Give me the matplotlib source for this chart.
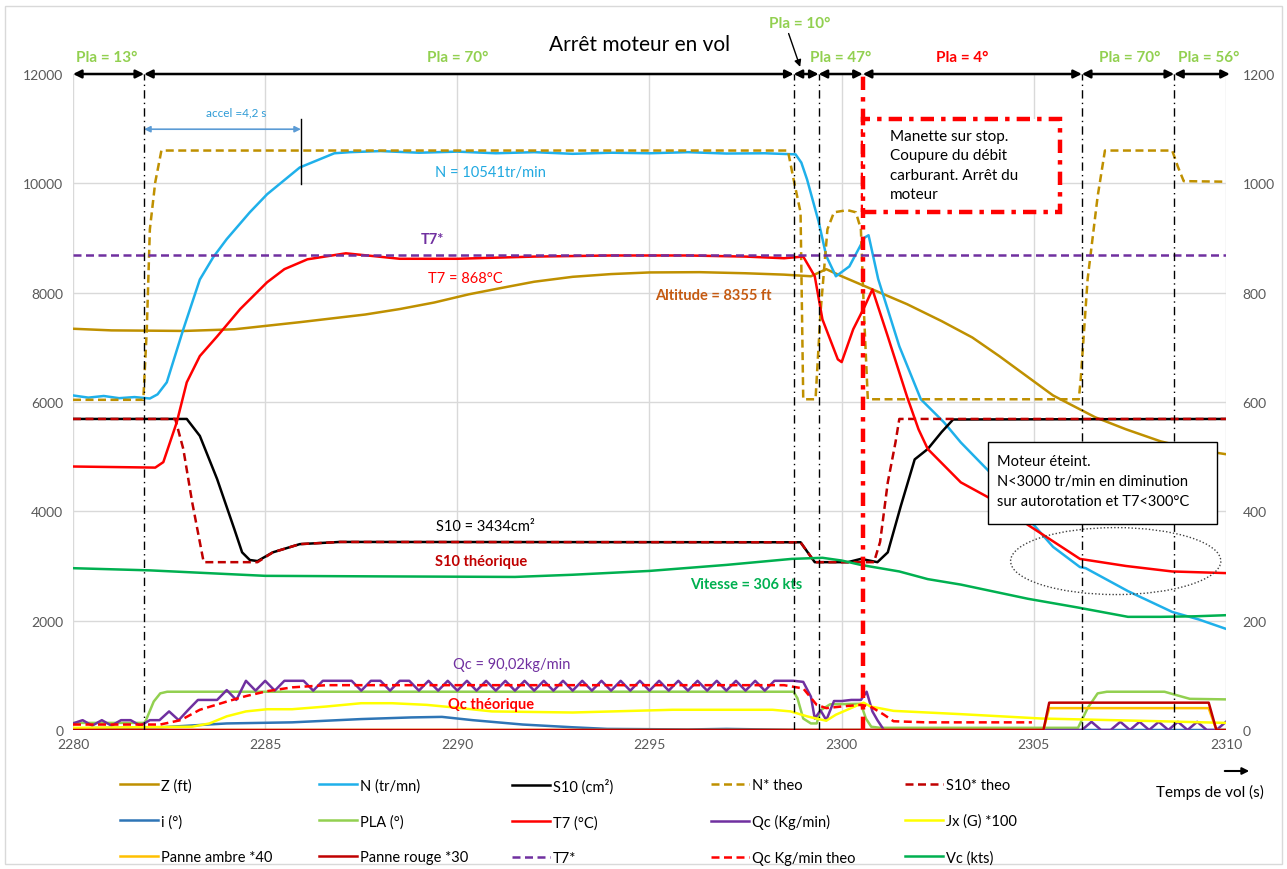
import numpy as np
import matplotlib
matplotlib.use("Agg")
import matplotlib.pyplot as plt
from matplotlib.patches import Rectangle, Ellipse, FancyArrowPatch

plt.rcParams['font.family'] = ['Lato', 'DejaVu Sans']
NARROW = ['Liberation Sans Narrow', 'Lato', 'DejaVu Sans']

# -------------------------------
# data (left axis)
# -------------------------------
z_t = [2280, 2281, 2282.9, 2284.2, 2285.9, 2287.6, 2288.5, 2289.4, 2290.3, 2291.1, 2292, 2293, 2294, 2295,
       2296.3, 2297.5, 2298.5, 2299.2, 2299.6, 2300.0, 2300.8, 2301.7, 2302.6, 2303.4, 2304.1, 2304.8, 2305.5,
       2306.6, 2307.4, 2308.3, 2309.2, 2310]
z_v = [7340, 7310, 7300, 7330, 7460, 7600, 7700, 7820, 7970, 8080, 8200, 8290, 8340, 8370,
       8375, 8355, 8330, 8300, 8430, 8300, 8060, 7790, 7480, 7180, 6840, 6480, 6120,
       5720, 5500, 5280, 5130, 5045]

n_t = [2280, 2280.4, 2280.8, 2281.2, 2281.6, 2282.0, 2282.2, 2282.44, 2282.87, 2283.3, 2283.65, 2284.0, 2284.6,
       2285.05, 2285.9, 2286.8, 2287.2, 2288, 2289, 2290, 2291, 2292, 2293, 2294, 2295, 2296, 2297, 2298,
       2298.8, 2298.95, 2299.1, 2299.4, 2299.6, 2299.85, 2300.2, 2300.6, 2300.7, 2300.95, 2301.5, 2302.06,
       2302.66, 2303.1, 2303.96, 2304.85, 2305.5, 2306.2, 2306.35, 2307.45, 2308.6, 2309.3, 2310]
n_v = [6120, 6080, 6110, 6070, 6090, 6064, 6140, 6360, 7330, 8240, 8650, 8980, 9470,
       9800, 10290, 10550, 10570, 10590, 10560, 10580, 10550, 10570, 10540, 10560, 10550, 10570, 10545, 10550,
       10530, 10380, 10070, 9300, 8670, 8300, 8480, 9010, 9050, 8250, 7020, 6050,
       5630, 5260, 4640, 3870, 3350, 2980, 2960, 2540, 2160, 2020, 1850]

s10_t = [2280, 2282.96, 2283.3, 2283.75, 2284.2, 2284.4, 2284.6, 2284.8, 2285.2, 2285.9, 2286.95, 2298.93,
         2299.3, 2300.16, 2300.5, 2300.93, 2301.2, 2301.54, 2301.9, 2302.24, 2302.6, 2302.9, 2310]
s10_v = [5690, 5690, 5380, 4590, 3670, 3250, 3110, 3090, 3250, 3400, 3440, 3434,
         3070, 3070, 3130, 3070, 3250, 4100, 4950, 5140, 5450, 5680, 5690]

nth_t = [2280, 2281.83, 2281.92, 2282.0, 2282.14, 2282.3, 2298.6, 2298.75, 2298.93, 2299.0, 2299.32, 2299.45,
         2299.63, 2299.8, 2300.15, 2300.37, 2300.5, 2300.58, 2300.68, 2306.17, 2306.22, 2306.4, 2306.66,
         2306.85, 2308.6, 2308.75, 2308.9, 2310]
nth_v = [6040, 6040, 7330, 9160, 10020, 10600, 10600, 10070, 9470, 6050, 6050, 7640,
         9160, 9470, 9510, 9470, 9160, 7640, 6050, 6050, 6420, 8250, 9760,
         10600, 10600, 10300, 10040, 10030]

s10th_t = [2280, 2282.66, 2282.87, 2283.1, 2283.4, 2284.8, 2285.2, 2285.9, 2286.95, 2298.93, 2299.3,
           2300.84, 2301.0, 2301.2, 2301.4, 2301.5, 2310]
s10th_v = [5690, 5690, 5140, 4170, 3070, 3070, 3250, 3400, 3440, 3434, 3070,
           3070, 3440, 4530, 5260, 5690, 5690]

# -------------------------------
# data (right axis)
# -------------------------------
i_t = [2280, 2282.3, 2284, 2285.7, 2287.5, 2288.8, 2289.6, 2290.4, 2291.7, 2293, 2293.9, 2296, 2297, 2298, 2299, 2310]
i_v = [3, 5, 12, 14, 20, 23, 24, 18, 10, 5, 2, 1, 2, 1, 0, 0]

pla_t = [2280, 2281.85, 2281.9, 2282.1, 2282.27, 2282.45, 2298.75, 2298.85, 2299.0, 2299.2, 2299.35, 2299.45,
         2299.7, 2300.5, 2300.63, 2300.77, 2301.0, 2306.15, 2306.4, 2306.66, 2306.9, 2308.4, 2308.75, 2309.06, 2310]
pla_v = [13, 13, 18, 52, 67, 70, 70, 58, 21, 12, 12, 36,
         47, 48, 21, 6, 4, 4, 40, 67, 70, 70, 63, 57, 56]

t7_t = [2280, 2282.14, 2282.35, 2282.7, 2282.96, 2283.3, 2283.75, 2284.35, 2285.05, 2285.5, 2286.1, 2287.1,
        2288.5, 2290, 2292, 2294, 2296, 2297.5, 2298.5, 2299.0, 2299.3, 2299.5, 2299.9, 2300.0, 2300.3, 2300.6,
        2300.8, 2301.2, 2301.7, 2302.0, 2302.24, 2303.1, 2303.96, 2304.85, 2305.7, 2306.2, 2307.4, 2308.6, 2310]
t7_v = [482, 480, 490, 563, 636, 684, 720, 770, 819, 843, 861, 872,
        862, 862, 866, 868, 868, 866, 863, 866, 830, 751, 678, 673, 733, 775,
        806, 720, 610, 550, 514, 453, 420, 375, 336, 313, 300, 290, 287]

# Qc sampled every 0.25 s up to 2299, then irregular points
qc_reg = [12, 18, 8, 18, 8, 18, 18, 8, 18, 18, 34, 18, 37, 55, 55, 55, 73, 55, 90, 72,
          90, 72, 90, 90, 90, 72, 90, 90, 90, 90, 72, 90, 90, 72, 90, 90, 72, 90, 72, 90,
          72, 90, 72, 90, 72, 90, 72, 90, 72, 90, 72, 90, 72, 90, 72, 90, 72, 90, 72, 90,
          72, 90, 72, 90, 72, 90, 72, 90, 72, 90, 72, 90, 72, 90, 90, 90, 88]
qc_tail_t = [2299.2, 2299.3, 2299.45, 2299.6, 2299.8, 2300.0, 2300.25, 2300.5, 2300.65, 2300.8, 2300.93, 2301.1,
             2306.25, 2306.5, 2306.75, 2307.0, 2307.25, 2307.5, 2307.75, 2308.0, 2308.25, 2308.5, 2308.75,
             2309.0, 2309.25, 2309.5, 2309.75, 2310.0]
qc_tail_v = [61, 21, 36, 18, 53, 53, 55, 55, 70, 34, 18, 0,
             0, 15, 0, 0, 15, 0, 15, 0, 15, 0, 15,
             0, 15, 0, 0, 15]
qc_t = list(np.arange(2280, 2299.01, 0.25)) + qc_tail_t
qc_v = qc_reg + qc_tail_v

jx_t = [2280, 2283.1, 2283.55, 2284, 2284.5, 2285.05, 2285.7, 2286.6, 2287.5, 2288.3, 2289.2, 2290.1, 2290.9,
        2293, 2295.6, 2298.2, 2298.67, 2299.1, 2299.4, 2299.6, 2299.85, 2300.57, 2300.75, 2301.35, 2303.1,
        2305.2, 2308.3, 2310]
jx_v = [4, 6, 12, 25, 34, 38, 38, 43, 49, 49, 46, 40, 34,
        32, 37, 37, 34, 25, 20, 17, 28, 50, 43, 35, 29,
        21, 16, 13]

panne_t = [2280, 2305.25, 2305.4, 2309.55, 2309.75, 2310]
ambre_v = [0, 0, 40, 40, 0, 0]
rouge_v = [0, 0, 50, 50, 0, 0]

t7star_t = [2280, 2310]
t7star_v = [868, 868]

qcth_t = [2280, 2282.27, 2282.8, 2283.3, 2284.0, 2284.5, 2285.05, 2285.7, 2286.6, 2298.5, 2299.0, 2299.35,
          2299.6, 2300.0, 2300.5, 2300.75, 2301.1, 2301.35, 2302.2, 2304.95]
qcth_v = [10, 10, 18, 37, 52, 62, 71, 78, 82, 82, 76, 46,
          40, 43, 46, 43, 28, 16, 14, 14]

vc_t = [2280, 2282, 2285, 2288, 2291.5, 2293, 2295, 2297, 2298.7, 2299.5, 2300.0, 2300.5, 2301.5, 2302.24,
        2303.1, 2304.85, 2306.15, 2307.45, 2308.3, 2309.2, 2310]
vc_v = [296, 292, 282, 281, 280, 284, 291, 302, 313, 315, 310, 302, 290, 276,
        266, 240, 224, 207, 207, 208, 210]

# phases (Pla) and event times
phase_edges = [2280, 2281.85, 2298.75, 2299.4, 2300.55, 2306.25, 2308.65, 2310.1]
phase_marks = [2281.85, 2298.75, 2299.4, 2306.25, 2308.65]
t_stop = 2300.55

# -------------------------------
# figure
# -------------------------------
fig = plt.figure(figsize=(12.87, 8.70), dpi=100)
ax = fig.add_axes([73/1287, 1-731/870, 1153/1287, 656/870])
ax2 = ax.twinx()
L = ax.transData

ax.set_xlim(2280, 2310)
ax.set_ylim(0, 12000)
ax2.set_ylim(0, 1200)
ax.set_xticks(range(2280, 2311, 5))
ax.set_yticks(range(0, 12001, 2000))
ax2.set_yticks(range(0, 1201, 200))
ax.set_axisbelow(True)
ax.grid(color='#d9d9d9', lw=1)
for a in (ax, ax2):
    for s in a.spines.values():
        s.set_visible(False)
ax.tick_params(axis='both', length=0, labelsize=10, colors='#595959')
ax.tick_params(axis='y', pad=7)
ax.tick_params(axis='x', pad=6)
ax2.tick_params(axis='y', length=0, labelsize=10, colors='#595959', pad=12)
for lbl in ax.get_xticklabels() + ax.get_yticklabels() + ax2.get_yticklabels():
    lbl.set_fontfamily(NARROW)

lw = 1.8
dash = (0, (3.2, 1.8))
h = {}
h['z'], = ax.plot(z_t, z_v, color='#BF9000', lw=lw, label='Z (ft)')
h['n'], = ax.plot(n_t, n_v, color='#1FB0EA', lw=lw, label='N (tr/mn)')
h['s10'], = ax.plot(s10_t, s10_v, color='black', lw=lw, label='S10 (cm²)')
h['nth'], = ax.plot(nth_t, nth_v, color='#BF9000', lw=lw, ls=dash, label='N* theo')
h['s10th'], = ax.plot(s10th_t, s10th_v, color='#C00000', lw=lw, ls=dash, label='S10* theo')

h['i'], = ax2.plot(i_t, i_v, color='#2E75B6', lw=lw, label='i (°)')
h['pla'], = ax2.plot(pla_t, pla_v, color='#92D050', lw=lw, label='PLA (°)')
h['t7'], = ax2.plot(t7_t, t7_v, color='#FF0000', lw=lw, label='T7 (°C)')
h['qc'], = ax2.plot(qc_t, qc_v, color='#7030A0', lw=lw, label='Qc (Kg/min)')
h['jx'], = ax2.plot(jx_t, jx_v, color='#FFFF00', lw=lw, label='Jx (G) *100')
h['ambre'], = ax2.plot(panne_t, ambre_v, color='#FFC000', lw=lw, label='Panne ambre *40')
h['rouge'], = ax2.plot(panne_t, rouge_v, color='#C00000', lw=lw, label='Panne rouge *30')
h['t7s'], = ax2.plot(t7star_t, t7star_v, color='#7030A0', lw=lw, ls=dash, label='T7*')
h['qcth'], = ax2.plot(qcth_t, qcth_v, color='#FF0000', lw=lw, ls=dash, label='Qc Kg/min theo')
h['vc'], = ax2.plot(vc_t, vc_v, color='#00B050', lw=lw, label='Vc (kts)')

# phase markers
for t in phase_marks:
    ax2.plot([t, t], [0, 12000], transform=L, color='black', lw=1, ls=(0, (6, 3, 1, 3)), zorder=5)
ax2.plot([t_stop, t_stop], [0, 12060], transform=L, color='#FF0000', lw=3.2,
         ls=(0, (3, 1.6, 1, 1.6)), zorder=6, clip_on=False)

for a, b in zip(phase_edges[:-1], phase_edges[1:]):
    ax2.annotate('', xy=(b, 12000), xytext=(a, 12000), xycoords=L, textcoords=L,
                 arrowprops=dict(arrowstyle='<|-|>', color='black', lw=1.8, mutation_scale=12,
                                 shrinkA=0, shrinkB=0), annotation_clip=False, zorder=7)

green = '#92D050'
pla_labels = [(2280.88, 'Pla = 13°', green), (2290.02, 'Pla = 70°', green), (2299.96, 'Pla = 47°', green),
              (2303.13, 'Pla = 4°', '#FF0000'), (2307.5, 'Pla = 70°', green), (2309.55, 'Pla = 56°', green)]
for x, s, c in pla_labels:
    ax2.text(x, 12310, s, transform=L, color=c, fontsize=11, fontweight='bold', ha='center', va='center')
ax2.text(2298.92, 12930, 'Pla = 10°', transform=L, color=green, fontsize=11, fontweight='bold',
         ha='center', va='center')
ax2.annotate('', xy=(2298.92, 12130), xytext=(2298.62, 12740), xycoords=L, textcoords=L,
             arrowprops=dict(arrowstyle='-|>', color='black', lw=1, mutation_scale=10, shrinkA=0, shrinkB=0),
             annotation_clip=False)

fig.text(640/1287, 1-45/870, 'Arrêt moteur en vol', fontsize=15, ha='center', va='center', color='black')

# accel annotation
ax2.annotate('', xy=(2285.93, 10990), xytext=(2281.85, 10990), xycoords=L, textcoords=L,
             arrowprops=dict(arrowstyle='<|-|>', color='#5B9BD5', lw=1.2, mutation_scale=9,
                             shrinkA=0, shrinkB=0))
ax2.plot([2285.93, 2285.93], [9990, 11180], transform=L, color='black', lw=1)
ax2.text(2284.24, 11300, 'accel =4,2 s', transform=L, color='#2E9BD6', fontsize=8.5, ha='center', va='center',
         family=NARROW)

# series labels
fs = 10.5
ax2.text(2290.85, 10207, 'N = 10541tr/min', transform=L, color='#1FA8E0', fontsize=fs, ha='center', va='center')
ax2.text(2289.34, 8981, 'T7*', transform=L, color='#7030A0', fontsize=fs, fontweight='bold', ha='center', va='center')
ax2.text(2290.2, 8268, 'T7 = 868°C', transform=L, color='#FF0000', fontsize=fs, ha='center', va='center')
ax2.text(2296.65, 7957, 'Altitude = 8355 ft', transform=L, color='#C55A11', fontsize=fs, fontweight='bold',
         ha='center', va='center')
ax2.text(2290.72, 3731, 'S10 = 3434cm²', transform=L, color='black', fontsize=fs, ha='center', va='center')
ax2.text(2290.62, 3091, 'S10 théorique', transform=L, color='#C00000', fontsize=fs, fontweight='bold',
         ha='center', va='center')
ax2.text(2297.51, 2671, 'Vitesse = 306 kts', transform=L, color='#00B050', fontsize=fs, fontweight='bold',
         ha='center', va='center')
ax2.text(2291.42, 1207, 'Qc = 90,02kg/min', transform=L, color='#7030A0', fontsize=fs, ha='center', va='center')
ax2.text(2290.88, 476, 'Qc théorique', transform=L, color='#FF0000', fontsize=fs, fontweight='bold',
         ha='center', va='center')

# boxes
ax2.add_patch(Rectangle((2300.55, 9475), 5.13, 1700, transform=L, facecolor='white', edgecolor='#FF0000',
                        lw=3.2, ls=(0, (3, 1.6, 1, 1.6)), zorder=8))
ax2.text(2301.26, 11000, 'Manette sur stop.\nCoupure du débit\ncarburant. Arrêt du\nmoteur', transform=L,
         fontsize=11, ha='left', va='top', linespacing=1.5, zorder=9)

ax2.add_patch(Rectangle((2303.81, 3768), 5.96, 1500, transform=L, facecolor='white', edgecolor='black',
                        lw=1, zorder=8))
ax2.text(2304.04, 5050, 'Moteur éteint.\nN<3000 tr/min en diminution\nsur autorotation et T7<300°C',
         transform=L, fontsize=10.5, ha='left', va='top', linespacing=1.55, zorder=9)

ax2.add_patch(Ellipse((2307.13, 3090), 5.47, 1225, transform=L, fill=False, edgecolor='#404040', lw=1,
                      ls=(0, (1, 1.5)), zorder=8))

# legend: 5 columns of 3 rows
cols = [['z', 'i', 'ambre'], ['n', 'pla', 'rouge'], ['s10', 't7', 't7s'], ['nth', 'qc', 'qcth'],
        ['s10th', 'jx', 'vc']]
col_x = [120, 319, 512, 711, 905]
for keys, x in zip(cols, col_x):
    hs = [h[k] for k in keys]
    fig.legend(hs, [k.get_label() for k in hs], loc='upper left', bbox_to_anchor=(x/1287, 1-779/870),
               frameon=False, ncol=1, handlelength=2.6, handletextpad=0.2, labelspacing=1.5,
               borderaxespad=0, borderpad=0, prop={'family': NARROW, 'size': 10.5})

fig.text(1210/1287, 1-792/870, 'Temps de vol (s)', fontsize=11, ha='center', va='center', family=NARROW)
fig.add_artist(FancyArrowPatch((1222/1287, 1-772/870), (1252/1287, 1-772/870),
                               transform=fig.transFigure, arrowstyle='-|>',
                               mutation_scale=10, lw=1.5, color='black'))

fig.patches.append(Rectangle((0.004, 0.006), 0.992, 0.986, transform=fig.transFigure, fill=False,
                             edgecolor='#d9d9d9', lw=1))

fig.savefig('out.png', dpi=100)
